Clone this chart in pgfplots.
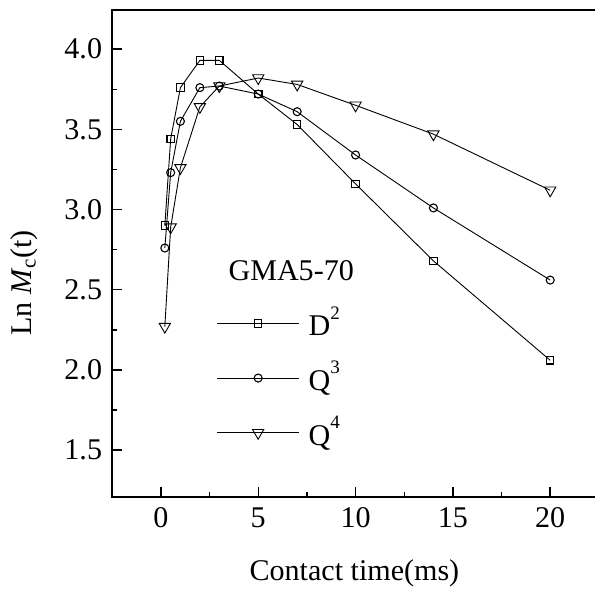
\documentclass[border=0pt]{standalone}
\usepackage{fontspec}
\setmainfont{Liberation Serif}
\usepackage{pgfplots}
\pgfplotsset{compat=1.18}
\newcommand{\sups}[1]{\raisebox{0.55em}{\fontsize{19}{19}\selectfont #1}}
\begin{document}
\fontsize{30}{36}\selectfont
\begin{tikzpicture}
% page cut at the right, so the right spine stays off the picture
\useasboundingbox (-112pt,-92pt) rectangle (481.5pt,496pt);
\begin{axis}[
    at={(0pt,0pt)}, anchor=south west,
    scale only axis, width=483pt, height=486pt,
    xmin=-2.5, xmax=22.38, ymin=1.206, ymax=4.244,
    axis line style={line width=1.6pt},
    tick align=inside, xtick pos=bottom, ytick pos=left,
    xtick={0,5,10,15,20}, ytick={1.5,2.0,2.5,3.0,3.5,4.0},
    minor tick num=1,
    major tick length=10pt, minor tick length=5pt,
    major tick style={draw=black, line width=1.4pt},
    minor tick style={draw=black, line width=1.4pt},
    /pgf/number format/assume math mode=true,
    yticklabel style={/pgf/number format/.cd, fixed, fixed zerofill, precision=1},
    xlabel={Contact time(ms)},
    xlabel style={yshift=-12pt},
    ylabel={Ln \textit{M}\textsubscript{c}(t)},
    ylabel style={at={(ticklabel cs:0.44)}, yshift=6pt},
    legend style={at={(0.215,0.396)}, anchor=north west, draw=none, fill=none,
        inner sep=0pt, row sep=17pt, nodes={inner xsep=9pt}},
    legend cell align=left,
    legend image code/.code={\draw[mark repeat=2, mark phase=2, #1]
        plot coordinates {(0pt,0pt) (41pt,0pt) (82pt,0pt)};},
    every axis plot/.append style={black, line width=0.9pt,
        mark options={solid, fill=white, line width=1.1pt}},
]
\addplot[mark=square, mark size=3.7pt] coordinates {
    (0.2,2.90) (0.5,3.44) (1,3.76) (2,3.93) (3,3.93) (5,3.72)
    (7,3.53) (10,3.16) (14,2.68) (20,2.06)
};
\addplot[mark=o, mark size=4pt] coordinates {
    (0.2,2.76) (0.5,3.23) (1,3.55) (2,3.76) (3,3.77) (5,3.72)
    (7,3.61) (10,3.34) (14,3.01) (20,2.56)
};
\addplot[mark=triangle, mark size=6.5pt, mark options={rotate=180}] coordinates {
    (0.2,2.27) (0.5,2.89) (1,3.26) (2,3.64) (3,3.77) (5,3.82)
    (7,3.78) (10,3.65) (14,3.47) (20,3.12)
};
\legend{D\sups{2}, Q\sups{3}, Q\sups{4}}
\node[anchor=base west] at (rel axis cs:0.219,0.444) {GMA5-70};
\end{axis}
\end{tikzpicture}
\end{document}
